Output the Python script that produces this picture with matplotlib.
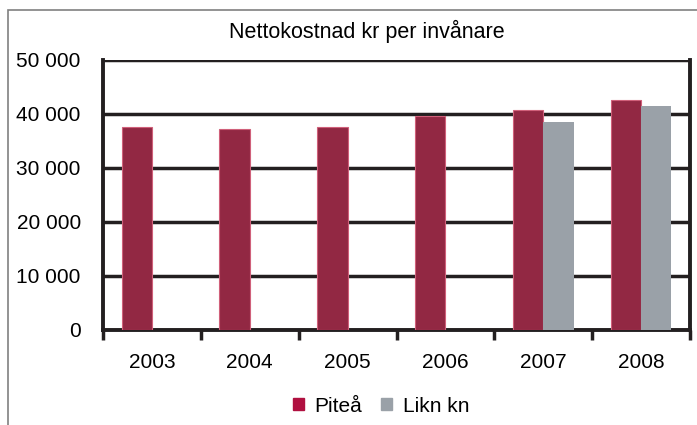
import matplotlib.pyplot as plt
import numpy as np
from matplotlib.patches import Rectangle, Patch
from matplotlib.ticker import FuncFormatter

plt.rcParams['font.family'] = ['Liberation Sans', 'DejaVu Sans']
ftsz = 15

# data
years = ['2003', '2004', '2005', '2006', '2007', '2008']
pitea = [37650, 37220, 37520, 39560, 40740, 42590]
likn = [np.nan, np.nan, np.nan, np.nan, 38580, 41540]

col_pitea = '#922843'
col_likn = '#9aa1a8'

fig = plt.figure(figsize=(6.97, 4.25), dpi=100)
ax = fig.add_axes([103 / 697, 1 - 329.5 / 425, (690 - 103) / 697, (329.5 - 60) / 425])

x = np.arange(len(years))
w = 0.31
ax.bar(x - w / 2, pitea, width=w, color=col_pitea, edgecolor='#d0607a', linewidth=0.8, zorder=3)
ax.bar(x + w / 2, likn, width=w, color=col_likn, linewidth=0, zorder=3)

ax.set_xlim(-0.5, len(years) - 0.5)
ax.set_ylim(0, 50000)
ax.set_yticks(np.arange(0, 50001, 10000))
ax.yaxis.set_major_formatter(FuncFormatter(lambda v, p: '{:,.0f}'.format(v).replace(',', ' ')))
ax.yaxis.grid(True, color='#231f20', linewidth=2.5, zorder=1)
ax.set_axisbelow(True)

# x ticks at category boundaries, labels at centres
ax.set_xticks(np.arange(-0.5, len(years), 1))
ax.set_xticklabels([])
ax.set_xticks(x, minor=True)
ax.set_xticklabels(years, minor=True, fontsize=ftsz)
ax.tick_params(axis='x', which='major', direction='out', length=7, width=2.5, color='#231f20')
ax.tick_params(axis='x', which='minor', length=0, pad=17)
ax.tick_params(axis='y', length=0, pad=16, labelsize=ftsz)

for s in ['left', 'right', 'bottom']:
    ax.spines[s].set_linewidth(2.8)
    ax.spines[s].set_color('#231f20')
ax.spines['top'].set_visible(False)

fig.text(367 / 697, 1 - 31 / 425, 'Nettokostnad kr per invånare', ha='center', va='center', fontsize=15.5)

# outer frame (only top and left visible in the crop)
fig.patches.append(Rectangle((8 / 697, -0.1), 1.2, 1 - 10 / 425 + 0.1, transform=fig.transFigure,
                             fill=False, edgecolor='#808080', linewidth=1.2))

handles = [Patch(color='#b01040', label='Piteå'), Patch(color=col_likn, label='Likn kn')]
fig.legend(handles=handles, loc='center', bbox_to_anchor=(381 / 697, 1 - 406 / 425), ncol=2,
           frameon=False, fontsize=15, handlelength=0.55, handleheight=0.55, handletextpad=0.5,
           columnspacing=0.9)

plt.savefig('out.png', dpi=100)
